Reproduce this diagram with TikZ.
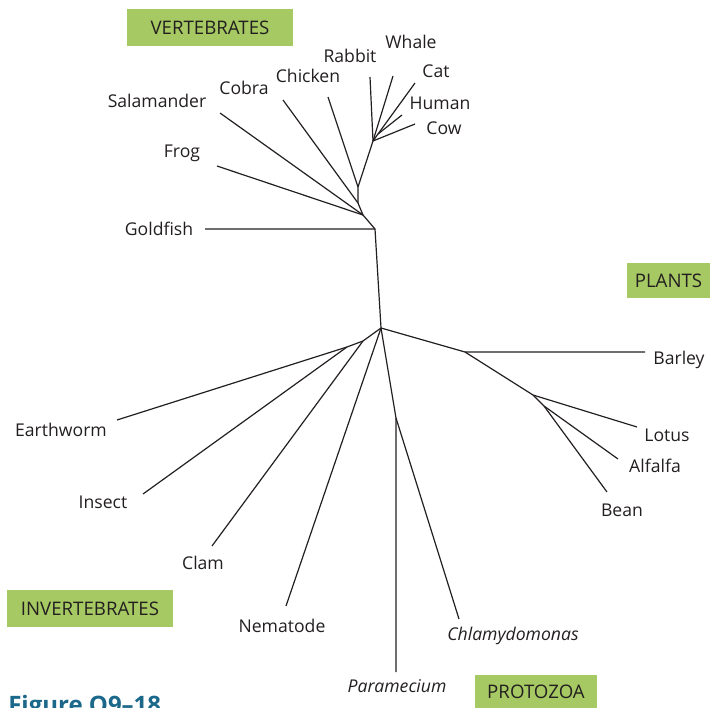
\documentclass[tikz,border=0pt]{standalone}
\usepackage{fontspec}
\setmainfont{Open Sans}
\usepackage{xcolor}
\definecolor{groupgreen}{RGB}{166,201,99}
\definecolor{figblue}{RGB}{28,104,138}
\definecolor{inkgray}{RGB}{35,31,32}

\begin{document}
\begin{tikzpicture}[x=0.75pt,y=-0.75pt]
 \tikzstyle{taxon}=[inner sep=1pt,text=inkgray,
   font=\fontsize{13.2}{15}\selectfont]
 \tikzstyle{groupbox}=[rectangle,fill=groupgreen,inner sep=0pt,
   text=inkgray,font=\fontsize{14}{16}\selectfont]
 \tikzstyle{branch}=[line width=0.9pt,draw=inkgray,line join=round]
 \useasboundingbox (0,0) rectangle (710,707);
 % group labels
 \node (vert) [groupbox,minimum width=124.5pt,minimum height=27.75pt]
   at (210,27.5) {VERTEBRATES\hspace{7pt}};
 \node (plants) [groupbox,minimum width=62.25pt,minimum height=26.25pt]
   at (668.5,280.5) {PLANTS};
 \node (invert) [groupbox,minimum width=124.5pt,minimum height=27.75pt]
   at (90,608.5) {INVERTEBRATES\hspace{8pt}};
 \node (proto) [groupbox,minimum width=91.5pt,minimum height=26.25pt]
   at (536,692) {PROTOZOA};
 \node (caption) [anchor=base west,inner sep=0pt,text=figblue,
   font=\bfseries\fontsize{18}{20}\selectfont] at (8,713) {Figure Q9--18};
 % inner forks of the tree
 \coordinate (vroot) at (375,229);
 \coordinate (iroot) at (381,328);
 \coordinate (amph) at (363,215);
 \coordinate (rept) at (358,203);
 \coordinate (amnio) at (358,187);
 \coordinate (mammal) at (373,141);
 \coordinate (primate) at (378,134);
 \coordinate (worms) at (363,341);
 \coordinate (annel) at (347,347);
 \coordinate (protist) at (396,418);
 \coordinate (plant) at (465,352);
 \coordinate (legume) at (533,395);
 \coordinate (beanalf) at (544,406);
 % leaf tips
 \coordinate (goldfish-end) at (205,229);
 \coordinate (frog-end) at (217,166);
 \coordinate (salamander-end) at (220,113);
 \coordinate (cobra-end) at (283,100);
 \coordinate (chicken-end) at (328,97);
 \coordinate (rabbit-end) at (370,77);
 \coordinate (whale-end) at (393,76);
 \coordinate (cat-end) at (415,83);
 \coordinate (human-end) at (402,115);
 \coordinate (cow-end) at (415,124);
 \coordinate (barley-end) at (645,352);
 \coordinate (lotus-end) at (637,427);
 \coordinate (alfalfa-end) at (618,459);
 \coordinate (bean-end) at (607,492);
 \coordinate (earthworm-end) at (117,420);
 \coordinate (insect-end) at (143,494);
 \coordinate (clam-end) at (212,546);
 \coordinate (nematode-end) at (286,606);
 \coordinate (paramecium-end) at (396,672);
 \coordinate (chlamy-end) at (459,619);
 % taxa
 \node (whale) [taxon] at (411,42) {Whale};
 \node (rabbit) [taxon] at (350,56) {Rabbit};
 \node (cat) [taxon] at (436,71) {Cat};
 \node (chicken) [taxon] at (308,76) {Chicken};
 \node (cobra) [taxon] at (244,88) {Cobra};
 \node (salamander) [taxon] at (157,101) {Salamander};
 \node (human) [taxon] at (440,103) {Human};
 \node (cow) [taxon] at (444,128) {Cow};
 \node (frog) [taxon] at (182,153) {Frog};
 \node (goldfish) [taxon] at (159,229) {Goldfish};
 \node (barley) [taxon] at (679,360) {Barley};
 \node (earthworm) [taxon] at (61,430) {Earthworm};
 \node (lotus) [taxon] at (667,435) {Lotus};
 \node (alfalfa) [taxon] at (655,466) {Alfalfa};
 \node (insect) [taxon] at (103,502) {Insect};
 \node (bean) [taxon] at (622,510) {Bean};
 \node (clam) [taxon] at (203,563) {Clam};
 \node (nematode) [taxon] at (282,626) {Nematode};
 \node (chlamy) [taxon] at (513,636) {\itshape Chlamydomonas};
 \node (paramecium) [taxon] at (397,686) {\itshape Paramecium};
 % vertebrates
 \draw[branch] (goldfish-end) -- (vroot) -- (iroot);
 \draw[branch] (vroot) -- (amph) -- (rept) -- (amnio) -- (mammal);
 \draw[branch] (frog-end) -- (amph);
 \draw[branch] (salamander-end) -- (amph);
 \draw[branch] (cobra-end) -- (rept);
 \draw[branch] (chicken-end) -- (amnio);
 \draw[branch] (rabbit-end) -- (mammal);
 \draw[branch] (whale-end) -- (mammal);
 \draw[branch] (cat-end) -- (primate) -- (mammal);
 \draw[branch] (human-end) -- (primate);
 \draw[branch] (cow-end) -- (mammal);
 % invertebrates
 \draw[branch] (iroot) -- (worms) -- (annel) -- (earthworm-end);
 \draw[branch] (insect-end) -- (annel);
 \draw[branch] (clam-end) -- (worms);
 \draw[branch] (nematode-end) -- (iroot);
 % protozoa
 \draw[branch] (iroot) -- (protist) -- (paramecium-end);
 \draw[branch] (protist) -- (chlamy-end);
 % plants
 \draw[branch] (iroot) -- (plant) -- (barley-end);
 \draw[branch] (plant) -- (legume) -- (lotus-end);
 \draw[branch] (legume) -- (beanalf) -- (alfalfa-end);
 \draw[branch] (beanalf) -- (bean-end);
\end{tikzpicture}
\end{document}
